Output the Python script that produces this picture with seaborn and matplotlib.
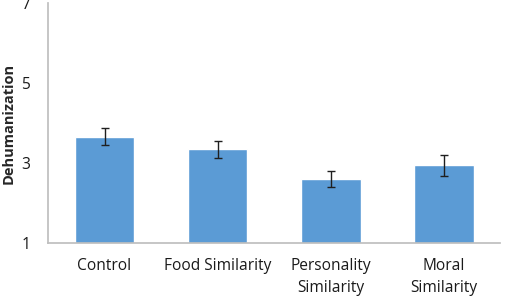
import pandas as pd
import matplotlib
matplotlib.use("Agg")
import matplotlib.pyplot as plt
import seaborn as sns

# values
conditions = ["Control", "Food Similarity", "Personality\nSimilarity", "Moral\nSimilarity"]
means = [3.66, 3.34, 2.60, 2.94]
errors = [0.21, 0.22, 0.21, 0.27]
y_ticks = [1, 3, 5, 7]

df = pd.DataFrame({"condition": conditions, "dehumanization": means})

sns.set_theme(style="white")
plt.rcParams["font.family"] = ["Open Sans", "DejaVu Sans"]

fig = plt.figure(figsize=(5.07, 3.03), dpi=100)
ax = fig.add_axes([0.0947, 0.198, 0.8917, 0.792])

sns.barplot(data=df, x="condition", y="dehumanization", color="#5B9BD5",
            saturation=1, width=0.53, errorbar=None, ax=ax)

# error bars on top of each bar
xs = [p.get_x() + p.get_width() / 2 for p in ax.patches]
ax.errorbar(xs, means, yerr=errors, fmt="none", ecolor="#1f1f1f",
            elinewidth=1, capsize=3, capthick=1)

ax.set_xlim(-0.5, 3.5)
ax.set_ylim(1, 7)
ax.set_yticks(y_ticks)
ax.set_xlabel("")
ax.set_ylabel("Dehumanization", fontsize=10.5, fontweight="bold")
ax.yaxis.set_label_coords(-0.072, 0.5)
ax.tick_params(axis="both", length=0, labelsize=11.2, colors="#1a1a1a")
ax.tick_params(axis="y", pad=13)
ax.tick_params(axis="x", pad=11)
for lbl in ax.get_xticklabels():
    lbl.set_linespacing(1.45)

sns.despine(ax=ax, top=True, right=True)
ax.spines["left"].set_color("#bfbfbf")
ax.spines["bottom"].set_color("#bfbfbf")

fig.savefig("out.png", dpi=100)
